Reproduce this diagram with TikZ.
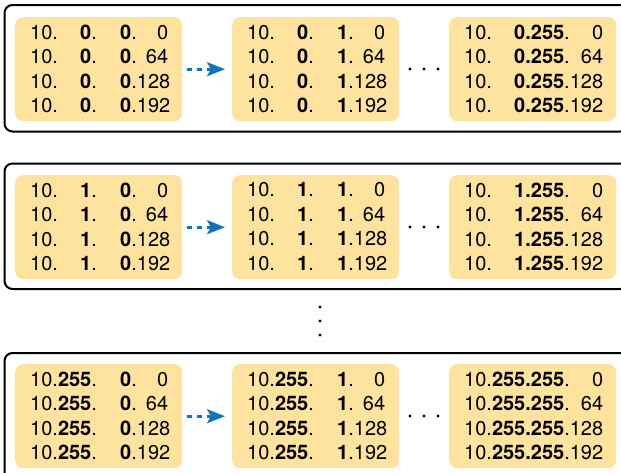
\documentclass[tikz,border=0pt]{standalone}
\usepackage{fontspec}
\setmainfont{TeX Gyre Heros}
\usetikzlibrary{arrows.meta}
\definecolor{ipyellow}{RGB}{253,227,158}
\definecolor{ipblue}{RGB}{16,117,186}
\tikzset{
  outerbox/.style={draw=black,line width=2pt,rounded corners=8pt},
  ybox/.style={fill=ipyellow,rounded corners=8pt,minimum width=167pt,minimum height=104pt,inner sep=0pt,anchor=north west},
  ipline/.style={anchor=west,inner sep=0pt},
  flow/.style={ipblue,line width=2.8pt,dash pattern=on 5pt off 5pt,-{Stealth[length=18pt,width=14pt,inset=4pt]},shorten <=5pt,shorten >=7pt},
  dotmark/.style={circle,fill=black,inner sep=0pt,minimum size=3.2pt},
}
\newcommand{\ipsize}{\fontsize{20}{24}\selectfont}
\newcommand{\ipbox}[7]{%
  \node[ybox] (#1) at (#2,#3) {};
  \node[ipline] (#1-1) at ([xshift=15pt,yshift=-15pt]#1.north west) {\ipsize #4};
  \node[ipline] (#1-2) at ([xshift=15pt,yshift=-39.5pt]#1.north west) {\ipsize #5};
  \node[ipline] (#1-3) at ([xshift=15pt,yshift=-64pt]#1.north west) {\ipsize #6};
  \node[ipline] (#1-4) at ([xshift=15pt,yshift=-88.5pt]#1.north west) {\ipsize #7};
}
\newcommand{\lA}[3]{\hbox to 50pt{#1\hfill}\hbox to 40pt{#2\hfill}\hbox to 48pt{#3}}
\newcommand{\lB}[2]{\hbox to 90pt{#1\hfill}\hbox to 48pt{#2}}
\newcommand{\lC}[2]{\hbox to 50pt{#1\hfill}\hbox to 89pt{#2}}
\newcommand{\lD}[1]{\hbox to 139pt{#1}}
\begin{document}
\begin{tikzpicture}[x=1pt,y=-1pt]
\useasboundingbox (0,0) rectangle (621,472);
\draw[outerbox] (4.5,5) rectangle (628,131.5);
\draw[outerbox] (4.5,163.5) rectangle (628,289);
\draw[outerbox] (4.5,353) rectangle (628,490);
\ipbox{a1}{15}{17}
 {\lA{10.}{\textbf{0}.}{\textbf{0}.\hfill 0}}
 {\lA{10.}{\textbf{0}.}{\textbf{0}.\hfill 64}}
 {\lA{10.}{\textbf{0}.}{\textbf{0}.\hfill 128}}
 {\lA{10.}{\textbf{0}.}{\textbf{0}.\hfill 192}}
\ipbox{b1}{232}{17}
 {\lA{10.}{\textbf{0}.}{\textbf{1}.\hfill 0}}
 {\lA{10.}{\textbf{0}.}{\textbf{1}.\hfill 64}}
 {\lA{10.}{\textbf{0}.}{\textbf{1}.\hfill 128}}
 {\lA{10.}{\textbf{0}.}{\textbf{1}.\hfill 192}}
\ipbox{c1}{449}{17}
 {\lC{10.}{\textbf{0.255}.\hfill 0}}
 {\lC{10.}{\textbf{0.255}.\hfill 64}}
 {\lC{10.}{\textbf{0.255}.\hfill 128}}
 {\lC{10.}{\textbf{0.255}.\hfill 192}}
\ipbox{a2}{15}{175}
 {\lA{10.}{\textbf{1}.}{\textbf{0}.\hfill 0}}
 {\lA{10.}{\textbf{1}.}{\textbf{0}.\hfill 64}}
 {\lA{10.}{\textbf{1}.}{\textbf{0}.\hfill 128}}
 {\lA{10.}{\textbf{1}.}{\textbf{0}.\hfill 192}}
\ipbox{b2}{232}{175}
 {\lA{10.}{\textbf{1}.}{\textbf{1}.\hfill 0}}
 {\lA{10.}{\textbf{1}.}{\textbf{1}.\hfill 64}}
 {\lA{10.}{\textbf{1}.}{\textbf{1}.\hfill 128}}
 {\lA{10.}{\textbf{1}.}{\textbf{1}.\hfill 192}}
\ipbox{c2}{449}{175}
 {\lC{10.}{\textbf{1.255}.\hfill 0}}
 {\lC{10.}{\textbf{1.255}.\hfill 64}}
 {\lC{10.}{\textbf{1.255}.\hfill 128}}
 {\lC{10.}{\textbf{1.255}.\hfill 192}}
\ipbox{a3}{15}{364}
 {\lB{10.\textbf{255}.}{\textbf{0}.\hfill 0}}
 {\lB{10.\textbf{255}.}{\textbf{0}.\hfill 64}}
 {\lB{10.\textbf{255}.}{\textbf{0}.\hfill 128}}
 {\lB{10.\textbf{255}.}{\textbf{0}.\hfill 192}}
\ipbox{b3}{232}{364}
 {\lB{10.\textbf{255}.}{\textbf{1}.\hfill 0}}
 {\lB{10.\textbf{255}.}{\textbf{1}.\hfill 64}}
 {\lB{10.\textbf{255}.}{\textbf{1}.\hfill 128}}
 {\lB{10.\textbf{255}.}{\textbf{1}.\hfill 192}}
\ipbox{c3}{449}{364}
 {\lD{10.\textbf{255.255}.\hfill 0}}
 {\lD{10.\textbf{255.255}.\hfill 64}}
 {\lD{10.\textbf{255.255}.\hfill 128}}
 {\lD{10.\textbf{255.255}.\hfill 192}}
\draw[flow] (a1) -- (b1);
\draw[flow] (a2) -- (b2);
\draw[flow] (a3) -- (b3);
\foreach \r/\y in {1/69,2/227,3/416}{
  \node[dotmark] (h\r-1) at (410,\y) {};
  \node[dotmark] (h\r-2) at (424,\y) {};
  \node[dotmark] (h\r-3) at (438,\y) {};
}
\node[dotmark] (v1) at (320,307) {};
\node[dotmark] (v2) at (320,321) {};
\node[dotmark] (v3) at (320,335) {};
\end{tikzpicture}
\end{document}
